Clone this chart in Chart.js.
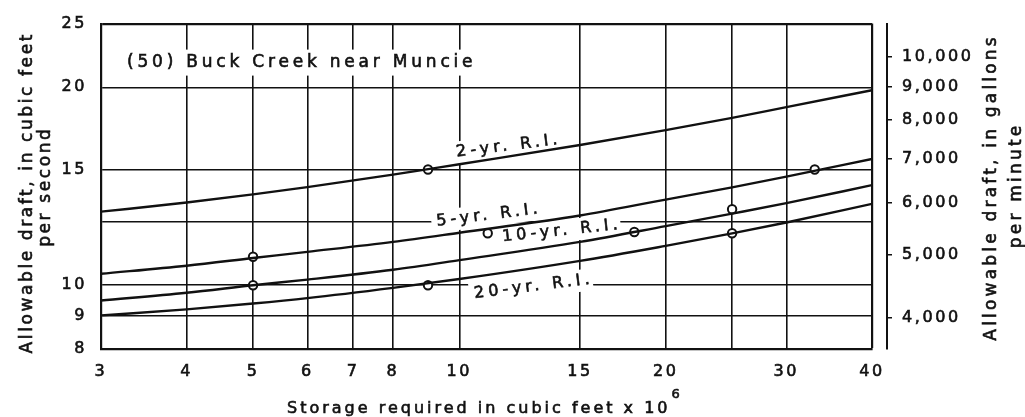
<!DOCTYPE html>
<html><head><meta charset="utf-8">
<script src="https://cdn.jsdelivr.net/npm/chart.js@4/dist/chart.umd.min.js"></script>
<style>html,body{margin:0;padding:0;background:#fff;}canvas{display:block;}</style>
</head><body>
<canvas id="c" width="1025" height="417"></canvas>
<script>
// ---- data ----
const storageX = [3, 4, 5, 6, 8, 10, 15, 20, 25, 30, 40];
const ri2yr  = [12.94, 13.36, 13.75, 14.1, 14.73, 15.28, 16.34, 17.22, 17.97, 18.66, 19.8];
const ri5yr  = [10.41, 10.71, 11.0, 11.24, 11.64, 12.02, 12.77, 13.5, 14.09, 14.63, 15.56];
const ri10yr = [9.48, 9.74, 10.0, 10.2, 10.56, 10.92, 11.64, 12.3, 12.85, 13.33, 14.2];
const ri20yr = [9.0, 9.19, 9.38, 9.56, 9.91, 10.22, 10.89, 11.48, 11.99, 12.46, 13.3];
const obsX = [5, 5, 9, 9, 11, 18, 25, 25, 33];
const obsY = [11.05, 10.0, 15.0, 10.0, 12.0, 12.05, 13.05, 12.0, 15.0];
const xTicks  = [3, 4, 5, 6, 7, 8, 10, 15, 20, 25, 30, 40];
const xLabels = ['3', '4', '5', '6', '7', '8', '10', '15', '20', '', '30', '40'];
const yTicks  = [8, 9, 10, 12.5, 15, 20, 25];
const yLabels = ['8', '9', '10', '', '15', '20', '25'];
const gpmTicks  = [4000, 5000, 6000, 7000, 8000, 9000, 10000];
const gpmLabels = ['4,000', '5,000', '6,000', '7,000', '8,000', '9,000', '10,000'];
const CFS_TO_GPM = 448.83;
const curveNames = ['2-yr. R.I.', '5-yr. R.I.', '10-yr. R.I.', '20-yr. R.I.'];
const chartTitle = '(50) Buck Creek near Muncie';
const xTitle = 'Storage required in cubic feet x 10';
const xTitleSup = '6';
const yTitle = ['Allowable draft, in cubic feet', 'per second'];
const y2Title = ['Allowable draft, in gallons', 'per minute'];

// ---- presentation ----
const INK = '#111';
const FONT = '"DejaVu Sans", sans-serif';
// label anchors in data coordinates (storage, cfs), rotation in degrees
const labelPlace = [
  {x: 11.73, y: 16.27, rot: -7},
  {x: 10.97, y: 12.77, rot: -7},
  {x: 14.02, y: 12.09, rot: -6},
  {x: 12.76, y: 9.95, rot: -7}
];

function pts(ys) { return storageX.map((x, i) => ({x: x, y: ys[i]})); }
function curve(ys) {
  return {type: 'line', data: pts(ys), borderColor: INK, borderWidth: 2.4,
          pointRadius: 0, cubicInterpolationMode: 'monotone', fill: false};
}
function inkText(ctx, t, x, y) {
  ctx.lineWidth = 0.6; ctx.strokeStyle = INK;
  ctx.strokeText(t, x, y);
  ctx.fillText(t, x, y);
}

const annot = {
  id: 'annot',
  beforeDraw(chart) { chart.ctx.letterSpacing = '2.6px'; },
  beforeDatasetsDraw(chart) {
    const ctx = chart.ctx, xs = chart.scales.x, ys = chart.scales.y, ca = chart.chartArea;
    ctx.save();
    ctx.font = '17px ' + FONT;
    ctx.letterSpacing = '3.8px';
    ctx.textBaseline = 'middle';
    ctx.textAlign = 'left';
    const tw = ctx.measureText(chartTitle).width;
    const tx = ca.left + 26, ty = ca.top + 39;
    ctx.fillStyle = '#fff';
    ctx.fillRect(tx - 6, ty - 13, tw + 8, 26);
    ctx.fillStyle = INK;
    inkText(ctx, chartTitle, tx, ty);
    curveNames.forEach((t, i) => {
      const p = labelPlace[i];
      const px = xs.getPixelForValue(p.x), py = ys.getPixelForValue(p.y);
      ctx.save();
      ctx.translate(px, py);
      ctx.rotate(p.rot * Math.PI / 180);
      ctx.font = '16px ' + FONT;
      ctx.letterSpacing = '4px';
      const w = ctx.measureText(t).width;
      ctx.fillStyle = '#fff';
      ctx.fillRect(-w / 2 - 3, -11, w + 4, 22);
      ctx.fillStyle = INK;
      ctx.textAlign = 'center';
      ctx.textBaseline = 'middle';
      inkText(ctx, t, 2, 0);
      ctx.restore();
    });
    ctx.restore();
  },
  afterDraw(chart) {
    const ctx = chart.ctx;
    ctx.save();
    ctx.fillStyle = INK;
    ctx.textBaseline = 'middle';
    ctx.font = '16px ' + FONT;
    ctx.letterSpacing = '3px';
    ctx.textAlign = 'left';
    inkText(ctx, xTitle, 287, 409);
    const w = ctx.measureText(xTitle).width;
    ctx.font = '13px ' + FONT;
    ctx.letterSpacing = '0px';
    inkText(ctx, xTitleSup, 287 + w + 1, 395);
    ctx.font = '17px ' + FONT;
    ctx.letterSpacing = '2.6px';
    ctx.textAlign = 'center';
    ctx.save(); ctx.translate(28, 194); ctx.rotate(-Math.PI / 2); inkText(ctx, yTitle[0], 1.3, 0); ctx.restore();
    ctx.save(); ctx.translate(46, 188); ctx.rotate(-Math.PI / 2); inkText(ctx, yTitle[1], 1.3, 0); ctx.restore();
    ctx.letterSpacing = '3.2px';
    ctx.save(); ctx.translate(992, 189); ctx.rotate(-Math.PI / 2); inkText(ctx, y2Title[0], 1.6, 0); ctx.restore();
    ctx.save(); ctx.translate(1017, 187); ctx.rotate(-Math.PI / 2); inkText(ctx, y2Title[1], 1.6, 0); ctx.restore();
    ctx.restore();
  }
};

const tickFont = {family: 'DejaVu Sans', size: 16};
const tickInk = {color: INK, font: tickFont, textStrokeColor: INK, textStrokeWidth: 0.6};
const gridWidth = (edgeVal) => (c) => (c.tick && c.tick.value === edgeVal ? 2.2 : 1.6);

new Chart(document.getElementById('c'), {
  type: 'line',
  data: {
    datasets: [
      curve(ri2yr), curve(ri5yr), curve(ri10yr), curve(ri20yr),
      {type: 'scatter', data: obsX.map((x, i) => ({x: x, y: obsY[i]})), showLine: false,
       pointRadius: 4.2, pointBorderWidth: 2, pointBackgroundColor: '#fff', pointBorderColor: INK}
    ]
  },
  options: {
    responsive: false, animation: false, devicePixelRatio: 1,
    layout: {padding: {top: 15, left: 0, right: 0, bottom: 0}},
    plugins: {legend: {display: false}, tooltip: {enabled: false}},
    scales: {
      x: {
        type: 'logarithmic', position: 'bottom', min: 3, max: 40,
        afterBuildTicks: s => { s.ticks = xTicks.map(v => ({value: v})); },
        afterFit: s => { s.height = 68; },
        ticks: Object.assign({autoSkip: false, maxRotation: 0, minRotation: 0, padding: 13,
                callback: v => xLabels[xTicks.indexOf(v)]}, tickInk),
        grid: {color: INK, lineWidth: gridWidth(40), drawTicks: false},
        border: {color: INK, width: 2.2}
      },
      y: {
        type: 'logarithmic', position: 'left', min: 8, max: 25,
        afterBuildTicks: s => { s.ticks = yTicks.map(v => ({value: v})); },
        afterFit: s => { s.width = 101; },
        ticks: Object.assign({autoSkip: false, padding: 14,
                callback: v => yLabels[yTicks.indexOf(v)]}, tickInk),
        grid: {color: INK, lineWidth: gridWidth(25), drawTicks: false},
        border: {color: INK, width: 2.2}
      },
      gap: {
        type: 'linear', position: 'right', weight: 0, display: true,
        ticks: {display: false}, grid: {display: false}, border: {display: false},
        afterFit: s => { s.width = 15; }
      },
      y2: {
        type: 'logarithmic', position: 'right', weight: 1,
        min: 8 * CFS_TO_GPM, max: 25 * CFS_TO_GPM,
        afterBuildTicks: s => { s.ticks = gpmTicks.map(v => ({value: v})); },
        afterFit: s => { s.width = 138; },
        ticks: Object.assign({autoSkip: false, padding: 10,
                callback: v => gpmLabels[gpmTicks.indexOf(v)]}, tickInk),
        grid: {drawOnChartArea: false, drawTicks: true, tickLength: 5, color: INK, lineWidth: 1.5},
        border: {color: INK, width: 2}
      }
    }
  },
  plugins: [annot]
});
</script>
</body></html>
